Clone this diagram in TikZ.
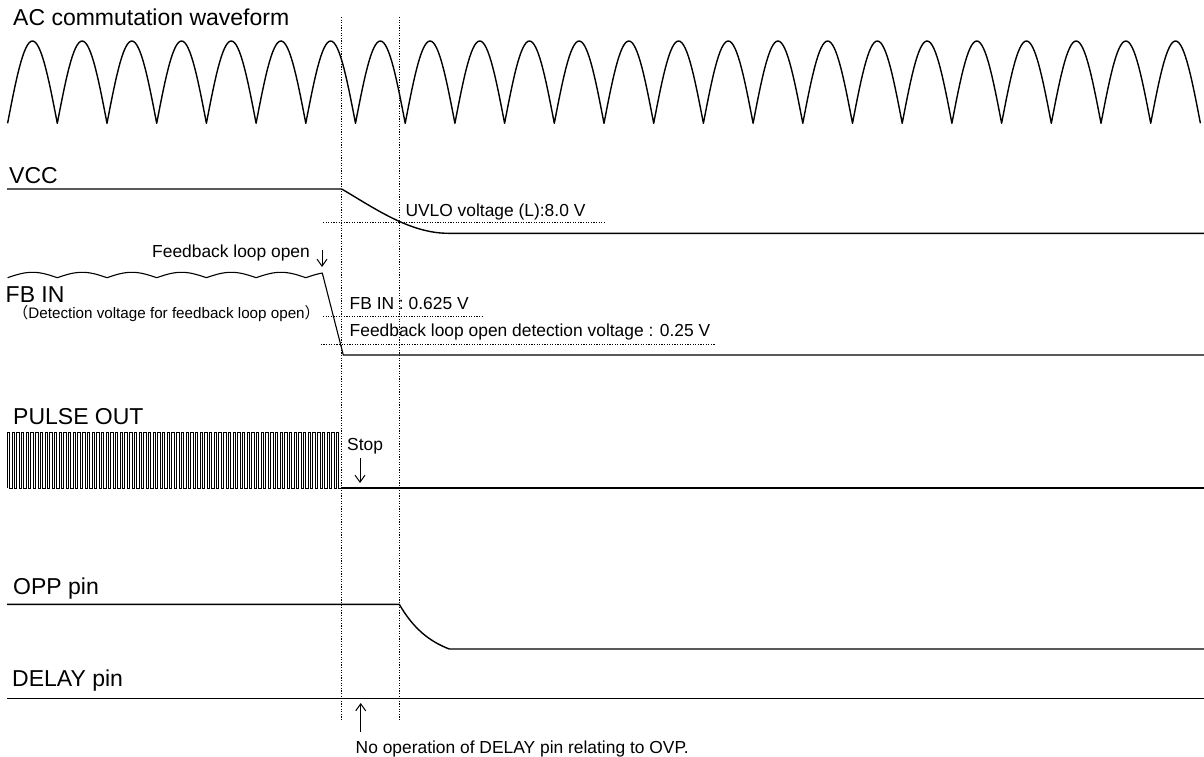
\documentclass[tikz,border=0pt]{standalone}
\usepackage{fontspec}
\setmainfont{Liberation Sans}
\newfontfamily\cjk{Noto Sans CJK JP}
\usetikzlibrary{arrows.meta}
\tikzset{
  wave/.style={line width=1.4pt, line join=round},
  fbwave/.style={line width=1.1pt, line join=round},
  pulse/.style={line width=0.7pt},
  guide/.style={line width=0.9pt, dash pattern=on 1.2pt off 1.4pt},
  biglabel/.style={font=\fontsize{23}{26}\selectfont, inner sep=0pt, anchor=base west},
  smalllabel/.style={font=\fontsize{17.4}{20}\selectfont, inner sep=0pt, anchor=base west},
  tinylabel/.style={font=\fontsize{15.2}{17}\selectfont, inner sep=0pt, anchor=base west},
  pointer/.style={line width=1pt, -{Straight Barb[length=7pt,width=10pt]}},
}
\begin{document}
\begin{tikzpicture}[x=1pt,y=-1pt]
\useasboundingbox (0,0) rectangle (1204,757);
% vertical guides
\draw[guide] (341.7,17) -- (341.7,720);
\draw[guide] (399.5,17) -- (399.5,720);
% AC commutation waveform
\node[biglabel] (aclabel) at (13,26) {AC commutation waveform};
\draw[wave] plot[domain=7.6:1200.4, samples=721] (\x,{123.3-82.3*abs(sin(((\x-7.6)/49.7)*180))});
% VCC
\node[biglabel] (vcclabel) at (9,183.5) {VCC};
\draw[wave] (7,189) -- (341.7,189) .. controls (375,208.6) and (410,233.3) .. (448.3,233.3) -- (1204,233.3);
\draw[guide] (323,222.3) -- (605,222.3);
\node[smalllabel] (uvlo) at (405.3,216.7) {UVLO voltage (L):8.0 V};
% FB IN
\node[smalllabel] (fbopen) at (152,257.3) {Feedback loop open};
\coordinate (fbarrowtop) at (322,250);
\coordinate (fbarrowtip) at (322,267);
\draw[pointer] (fbarrowtop) -- (fbarrowtip);
\draw[fbwave] plot[domain=7.6:322.3, samples=191] (\x,{277.7-5.4*abs(sin(((\x-7.6)/49.7)*180))}) -- (343.3,355) -- (1204,355);
\node[biglabel] (fblabel) at (5.5,302) {FB IN};
\node[tinylabel] (fbdet) at (13,318) {{\cjk （}Detection voltage for feedback loop open{\cjk ）}};
\draw[guide] (323,316.7) -- (482.7,316.7);
\node[smalllabel] (fb0625) at (349.5,309) {FB IN : 0.625 V};
\draw[guide] (320.7,344.3) -- (715,344.3);
\node[smalllabel] (fb025) at (349.5,336.5) {Feedback loop open detection voltage : 0.25 V};
% PULSE OUT
\node[biglabel] (pulselabel) at (13,424.3) {PULSE OUT};
\draw[pulse] (7.3,488) \foreach \i in {1,...,71} { -- ++(0,-56) -- ++(2.35,0) -- ++(0,56) -- ++(2.35,0) };
\draw[wave] (341,488) -- (1204,488);
\node[smalllabel] (stop) at (347,450) {Stop};
\coordinate (stoptop) at (360,458);
\coordinate (stoptip) at (360,483);
\draw[pointer] (stoptop) -- (stoptip);
% OPP pin
\node[biglabel] (opplabel) at (13,594) {OPP pin};
\draw[wave] (7,604.3) -- (399.3,604.3) -- plot[domain=399.3:449.3, samples=40] (\x,{604.3+44.7*(1-exp(-(\x-399.3)/33))/0.7802}) -- (1204,649);
% DELAY pin
\node[biglabel] (delaylabel) at (12,686) {DELAY pin};
\draw[wave] (7,698.3) -- (1204,698.3);
\coordinate (upbottom) at (360.7,732);
\coordinate (uptip) at (360.7,703);
\draw[pointer] (upbottom) -- (uptip);
\node[smalllabel] (noop) at (355.5,753) {No operation of DELAY pin relating to OVP.};
\end{tikzpicture}
\end{document}
